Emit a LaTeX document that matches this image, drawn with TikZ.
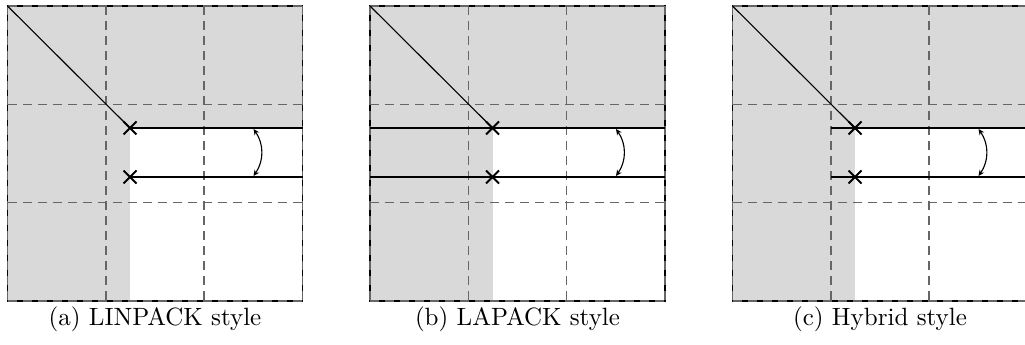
\documentclass[tikz,border=0pt]{standalone}
\usepackage{tikz}
\usetikzlibrary{arrows.meta, shapes.misc}
\definecolor{cDone}{HTML}{D9D9D9}
\tikzstyle{grid}    = [draw=black!60, line width=0.6pt, dash pattern=on 3.7pt off 2.3pt]
\tikzstyle{frame}   = [draw=black, line width=0.5pt]
\tikzstyle{diag}    = [draw=black, line width=0.45pt]
\tikzstyle{row}     = [draw=black, line width=1pt]
\tikzstyle{piv}     = [cross out, draw=black, line width=0.8pt, minimum size=4.4pt, inner sep=0pt]
\tikzstyle{swap}    = [{Stealth[length=2.4pt,width=2.2pt]}-{Stealth[length=2.4pt,width=2.2pt]}, line width=0.45pt, bend left=35]
\tikzstyle{subcap}  = [anchor=base, font=\normalsize, inner sep=0pt]

\begin{document}
\begin{tikzpicture}[x=0.4pt, y=-0.4pt]
\useasboundingbox (0,0) rectangle (1025,345);

% (a) LINPACK
\begin{scope}[shift={(7.5,6)}, name prefix=a-]
\fill[cDone] (0,0) rectangle (295,295);
\fill[white] (122.5,122) rectangle (295,295);
\draw[frame] (0,0) rectangle (295,295);
\foreach \g in {0,98.33,196.67,295} {\draw[grid] (\g,0) -- (\g,295); \draw[grid] (0,\g) -- (295,\g);}
\coordinate (tl) at (0,0);
\node (p1) [piv] at (122.5,122) {};
\node (p2) [piv] at (122.5,171) {};
\coordinate (e1) at (295,122);
\coordinate (e2) at (295,171);
\coordinate (s1) at (246,123);
\coordinate (s2) at (246,170);
\draw[diag] (tl) -- (p1.center);
\draw[row] (p1.center) -- (e1);
\draw[row] (p2.center) -- (e2);
\draw[swap] (s1) to (s2);
\node (lbl) [subcap] at (147.5,320) {(a) LINPACK style};
\end{scope}

% (b) LAPACK
\begin{scope}[shift={(370,6)}, name prefix=b-]
\fill[cDone] (0,0) rectangle (295,295);
\fill[white] (122.5,122) rectangle (295,295);
\draw[frame] (0,0) rectangle (295,295);
\foreach \g in {0,98.33,196.67,295} {\draw[grid] (\g,0) -- (\g,295); \draw[grid] (0,\g) -- (295,\g);}
\coordinate (tl) at (0,0);
\node (p1) [piv] at (122.5,122) {};
\node (p2) [piv] at (122.5,171) {};
\coordinate (w1) at (0,122);
\coordinate (w2) at (0,171);
\coordinate (e1) at (295,122);
\coordinate (e2) at (295,171);
\coordinate (s1) at (246,123);
\coordinate (s2) at (246,170);
\draw[diag] (tl) -- (p1.center);
\draw[row] (w1) -- (e1);
\draw[row] (w2) -- (e2);
\draw[swap] (s1) to (s2);
\node (lbl) [subcap] at (147.5,320) {(b) LAPACK style};
\end{scope}

% (c) Hybrid
\begin{scope}[shift={(732.5,6)}, name prefix=c-]
\fill[cDone] (0,0) rectangle (295,295);
\fill[white] (122.5,122) rectangle (295,295);
\draw[frame] (0,0) rectangle (295,295);
\foreach \g in {0,98.33,196.67,295} {\draw[grid] (\g,0) -- (\g,295); \draw[grid] (0,\g) -- (295,\g);}
\coordinate (tl) at (0,0);
\node (p1) [piv] at (122.5,122) {};
\node (p2) [piv] at (122.5,171) {};
\coordinate (w1) at (98.33,122);
\coordinate (w2) at (98.33,171);
\coordinate (e1) at (295,122);
\coordinate (e2) at (295,171);
\coordinate (s1) at (246,123);
\coordinate (s2) at (246,170);
\draw[diag] (tl) -- (p1.center);
\draw[row] (w1) -- (e1);
\draw[row] (w2) -- (e2);
\draw[swap] (s1) to (s2);
\node (lbl) [subcap] at (147.5,320) {(c) Hybrid style};
\end{scope}
\end{tikzpicture}
\end{document}
